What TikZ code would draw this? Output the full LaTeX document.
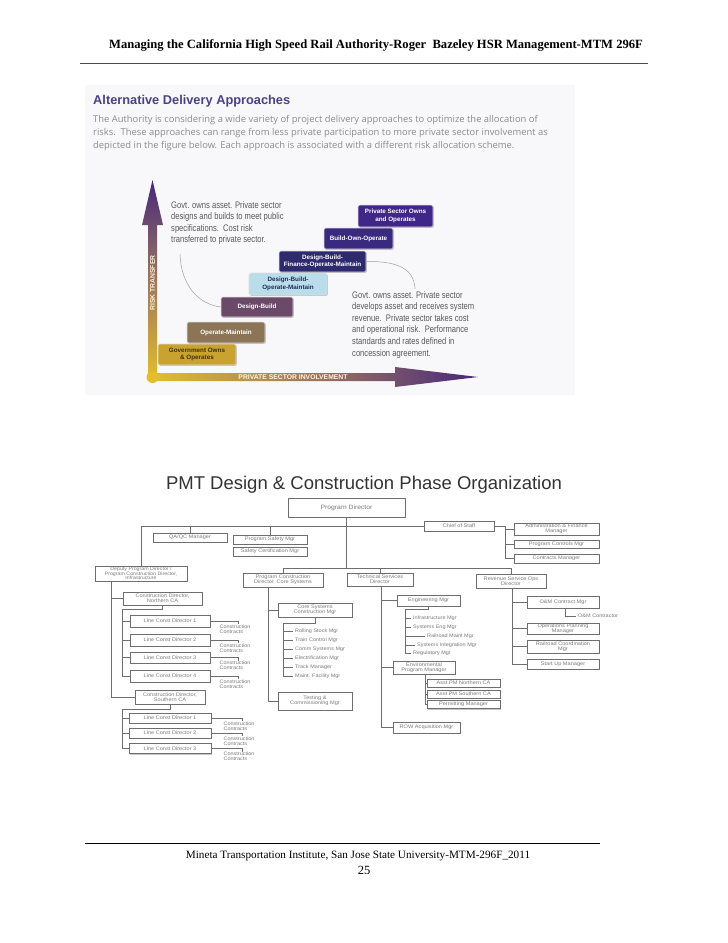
\documentclass[tikz,border=0pt]{standalone}
\usepackage{fontspec}
\setmainfont{Liberation Serif}
\newfontfamily\arialf{Liberation Sans}
\newfontfamily\orgf[FakeStretch=1.1]{Liberation Sans}
\newfontfamily\narrowf[FakeStretch=0.8]{Liberation Sans}
\newfontfamily\parf{Open Sans}
\usetikzlibrary{shadows}
\definecolor{bgtop}{HTML}{F8F8FA}
\definecolor{ttl}{HTML}{4B4188}
\definecolor{partx}{HTML}{8C8C8C}
\definecolor{ygold}{HTML}{E2BE2C}
\definecolor{amid}{HTML}{9C7660}
\definecolor{apur}{HTML}{47287A}
\definecolor{cgov}{HTML}{C9A230}
\definecolor{cgovt}{HTML}{3E3214}
\definecolor{com}{HTML}{8C7457}
\definecolor{cdb}{HTML}{6B4A69}
\definecolor{cdbom}{HTML}{B9DDEA}
\definecolor{cdbomt}{HTML}{232B5C}
\definecolor{cdbf}{HTML}{2E2A6E}
\definecolor{cboo}{HTML}{392A80}
\definecolor{cps}{HTML}{3F2688}
\definecolor{anntx}{HTML}{5A5A5A}
\definecolor{orgtx}{HTML}{7A7A7A}
\definecolor{orgln}{HTML}{6E6E6E}
\begin{document}
\begin{tikzpicture}[x=1pt,y=-1pt,
  wh/.style 2 args={minimum width=#1pt, minimum height=#2pt},
  ob/.style={draw=orgln, line width=0.8pt, fill=white, inner sep=0pt, align=center,
    font=\orgf\fontsize{5.1}{5.2}\selectfont, text=orgtx,
    drop shadow={shadow xshift=1.2pt, shadow yshift=-1.2pt, fill=gray!45, opacity=1}},
  ln/.style={draw=orgln, line width=0.6pt},
  itm/.style={anchor=west, inner sep=0pt, font=\orgf\fontsize{5}{6}\selectfont, text=orgtx},
  ctr/.style={anchor=north west, inner sep=0pt, align=left, font=\orgf\fontsize{5}{4.8}\selectfont, text=orgtx},
  tb/.style={rounded corners=1.5pt, inner sep=0pt, align=center, text=white,
    font=\arialf\bfseries\fontsize{6.3}{7.5}\selectfont, draw=white!75!gray, line width=0.6pt,
    drop shadow={shadow xshift=0.8pt, shadow yshift=-0.8pt, fill=gray!50, opacity=1}},
  ann/.style={anchor=north west, inner sep=0pt, align=left, text=anntx,
    font=\narrowf\fontsize{9.5}{11.6}\selectfont},
  cur/.style={draw=gray!75, line width=0.5pt}
]
\useasboundingbox (0,0) rectangle (728,943);
\fill[white] (0,0) rectangle (728,943);

% header
\node[font=\bfseries\fontsize{12.6}{14}\selectfont, inner sep=0pt] (hd) at (376,45)
  {Managing the California High Speed Rail Authority-Roger\ \ Bazeley HSR Management-MTM 296F};
\draw[gray!60!black, line width=0.8pt] (80,63) -- (648,63);

% ===== top figure =====
\fill[bgtop] (85,85) rectangle (575,395);
\node[anchor=west, inner sep=0pt, font=\arialf\bfseries\fontsize{12.8}{14}\selectfont, text=ttl] (t1) at (93,101)
  {Alternative Delivery Approaches};
\node[anchor=north west, align=left, inner sep=0pt, font=\parf\fontsize{9.4}{13}\selectfont, text=partx] (p1) at (93,115.5)
  {The Authority is considering a wide variety of project delivery approaches to optimize the allocation of\\
   risks.\ \ These approaches can range from less private participation to more private sector involvement as\\
   depicted in the figure below. Each approach is associated with a different risk allocation scheme.};

% arrows
\shade[top color=apur, bottom color=ygold, middle color=amid]
  (148,380) -- (148,225) -- (142,225) -- (152.5,180) -- (163,225) -- (157,225) -- (157,380) -- cycle;
\shade[left color=ygold, right color=apur, middle color=amid]
  (152,373) -- (395,373) -- (395,367) -- (478,377) -- (395,387) -- (395,381) -- (152,381) -- cycle;
\fill[ygold] (152.5,377) circle (6);
\node[rotate=90, inner sep=0pt, font=\arialf\bfseries\fontsize{6.8}{7}\selectfont, text=white!80!ygold] (rt) at (152.5,283) {RISK TRANSFER};
\node[inner sep=0pt, font=\arialf\bfseries\fontsize{6.8}{7}\selectfont, text=white!85!ygold] (psi) at (293,377.5) {PRIVATE SECTOR INVOLVEMENT};

% steps
\node[tb, fill=cgov, text=cgovt, wh={78}{21}] (b1) at (197,354.5) {Government Owns\\\& Operates};
\node[tb, fill=com, wh={78}{21}] (b2) at (226,332.5) {Operate-Maintain};
\node[tb, fill=cdb, wh={72}{20}] (b3) at (257,307) {Design-Build};
\node[tb, fill=cdbom, text=cdbomt, wh={78}{22}] (b4) at (288,284) {Design-Build-\\Operate-Maintain};
\node[tb, fill=cdbf, wh={87}{21}] (b5) at (322.5,261.5) {Design-Build-\\Finance-Operate-Maintain};
\node[tb, fill=cboo, wh={69}{21}] (b6) at (358.5,238.5) {Build-Own-Operate};
\node[tb, fill=cps, wh={75}{22}] (b7) at (395.5,216) {Private Sector Owns\\and Operates};

% annotations
\node[ann] (la) at (171,201) {Govt. owns asset. Private sector\\designs and builds to meet public\\specifications.\ \ Cost risk\\transferred to private sector.};
\node[ann] (ra) at (352,291) {Govt. owns asset. Private sector\\develops asset and receives system\\revenue.\ \ Private sector takes cost\\and operational risk.\ \ Performance\\standards and rates defined in\\concession agreement.};
\coordinate (lc) at (180,254);
\coordinate (rc) at (415,289);
\draw[cur] (lc) .. controls (181,285) and (198,304) .. (b3.west);
\draw[cur] (b5.east) .. controls (400,261) and (414,270) .. (rc);

% ===== org chart =====
\node[inner sep=0pt, font=\arialf\fontsize{18.5}{20}\selectfont, text=black!80] (ot) at (364,485)
  {PMT Design \& Construction Phase Organization};

\node[ob, wh={117}{19}, font=\orgf\fontsize{6.2}{7}\selectfont] (pd) at (346.5,507.5) {Program Director};
\node[ob, wh={70}{10}] (cos) at (459,526) {Chief of Staff};
\node[ob, wh={74}{9}] (qa) at (190,537.5) {QA/QC Manager};
\node[ob, wh={74}{9}] (psm) at (270,539.5) {Program Safety Mgr};
\node[ob, wh={74}{9}] (scm) at (270,551.5) {Safety Certification Mgr};
\node[ob, wh={85}{12}] (afm) at (556.5,529) {Administration \& Finance\\Manager};
\node[ob, wh={85}{8}] (pcm) at (556.5,544) {Program Controls Mgr};
\node[ob, wh={85}{9}] (cm) at (556.5,558.5) {Contracts Manager};

\node[ob, wh={92}{15}, font=\orgf\fontsize{4.8}{4.5}\selectfont] (dep) at (141,573.5)
  {Deputy Program Director /\\Program Construction Director,\\Infrastructure};
\node[ob, wh={79}{13}] (nca) at (162.5,598.5) {Construction Director,\\Northern CA};
\node[ob, wh={80}{12}] (n1) at (170,621) {Line Const Director 1};
\node[ob, wh={80}{12}] (n2) at (170,640) {Line Const Director 2};
\node[ob, wh={80}{11}] (n3) at (170,657.5) {Line Const Director 3};
\node[ob, wh={80}{12}] (n4) at (170,676) {Line Const Director 4};
\node[ob, wh={70}{14}] (sca) at (170,697) {Construction Director,\\Southern CA};
\node[ob, wh={82}{10}] (s1) at (170,718) {Line Const Director 1};
\node[ob, wh={82}{10}] (s2) at (170,733) {Line Const Director 2};
\node[ob, wh={82}{10}] (s3) at (170,748.5) {Line Const Director 3};

\node[ob, wh={80}{14}] (pcd) at (283,580) {Program Construction\\Director, Core Systems};
\node[ob, wh={74}{14}] (cscm) at (315,610) {Core Systems\\Construction Mgr};
\node[ob, wh={74}{18}] (tcm) at (315,701) {Testing \&\\Commissioning Mgr};
\node[itm] (c1) at (295,631) {Rolling Stock Mgr};
\node[itm] (c2) at (295,640) {Train Control Mgr};
\node[itm] (c3) at (295,649) {Comm Systems Mgr};
\node[itm] (c4) at (295,658) {Electrification Mgr};
\node[itm] (c5) at (295,667) {Track Manager};
\node[itm] (c6) at (295,676) {Maint. Facility Mgr};

\node[ob, wh={66}{13}] (tsd) at (380,579.5) {Technical Services\\Director};
\node[ob, wh={63}{11}] (em) at (428.5,600.5) {Engineering Mgr};
\node[itm] (e1) at (413,618) {Infrastructure Mgr};
\node[itm] (e2) at (413,627) {Systems Eng Mgr};
\node[itm] (e3) at (427,636) {Railroad Maint Mgr};
\node[itm] (e4) at (417,645) {Systems Integration Mgr};
\node[itm] (e5) at (413,653) {Regulatory Mgr};
\node[ob, wh={62}{13}] (epm) at (424,667.5) {Environmental\\Program Manager};
\node[ob, wh={73}{8}] (apn) at (463.5,683) {Asst PM Northern CA};
\node[ob, wh={73}{8}] (aps) at (463.5,694) {Asst PM Southern CA};
\node[ob, wh={73}{8}] (pm) at (463.5,704.5) {Permitting Manager};
\node[ob, wh={67}{11}] (row) at (426.5,727.5) {ROW Acquisition Mgr};

\node[ob, wh={70}{14}] (rsod) at (511,581) {Revenue Service Ops\\Director};
\node[ob, wh={72}{12}] (ocm) at (563,602) {O\&M Contract Mgr};
\node[itm] (omc) at (578,616) {O\&M Contractor};
\node[ob, wh={72}{11}] (opm) at (563,628.5) {Operations Planning\\Manager};
\node[ob, wh={72}{13}] (rcm) at (563,646.5) {Railroad Coordination\\Mgr};
\node[ob, wh={72}{10}] (sum) at (563,664) {Start Up Manager};

% contracts labels
\foreach \b in {n1,n2,n3,n4}{
  \draw[ln] (\b.east) -- ++(28,0) -- ++(0,3);
  \node[ctr] (ct\b) at ([xshift=9pt,yshift=-3.5pt]\b.east) {Construction\\Contracts};
}
\foreach \b in {s1,s2,s3}{
  \draw[ln] (\b.east) -- ++(31,0) -- ++(0,3);
  \node[ctr] (ct\b) at ([xshift=12pt,yshift=-3.5pt]\b.east) {Construction\\Contracts};
}

% connectors
\coordinate (bl) at (0,568);
\draw[ln] (dep.north) -- (dep.north |- cos.west) -- (cos.west);
\draw[ln] (qa.north) -- (qa.north |- cos.west);
\draw[ln] (psm.north) -- (psm.north |- cos.west);
\draw[ln] (pd.south) -- (pd.south |- bl);
\draw[ln] (pcd.north) -- (pcd.north |- bl) -- (rsod.north |- bl) -- (rsod.north);
\draw[ln] (tsd.north) -- (tsd.north |- bl);

\coordinate (cv0) at (505,0);
\draw[ln] (cos.east) -- (cos.east -| cv0) -- (cm.west -| cv0) -- (cm.west);
\draw[ln] (afm.west -| cv0) -- (afm.west);
\draw[ln] (pcm.west -| cv0) -- (pcm.west);

\coordinate (dv) at (111,0);
\draw[ln] (dep.south -| dv) -- (sca.west -| dv) -- (sca.west);
\draw[ln] (nca.west -| dv) -- (nca.west);

\coordinate (nv) at (122,609);
\draw[ln] (nca.south) |- (nv) -- (nv |- n4.west) -- (n4.west);
\foreach \b in {n1,n2,n3}{\draw[ln] (\b.west -| nv) -- (\b.west);}
\coordinate (sv) at (122,709);
\draw[ln] (sca.south) |- (sv) -- (sv |- s3.west) -- (s3.west);
\foreach \b in {s1,s2}{\draw[ln] (\b.west -| sv) -- (\b.west);}

\coordinate (pv) at (268,0);
\draw[ln] (pcd.south -| pv) -- (tcm.west -| pv) -- (tcm.west);
\draw[ln] (cscm.west -| pv) -- (cscm.west);
\coordinate (cv) at (283,623);
\draw[ln] (cscm.south) |- (cv) -- (cv |- c6.west);
\foreach \b in {c1,c2,c3,c4,c5,c6}{\draw[ln] (\b.west -| cv) -- ([xshift=-2pt]\b.west);}

\coordinate (tv) at (381,0);
\draw[ln] (tsd.south -| tv) -- (row.west -| tv) -- (row.west);
\draw[ln] (em.west -| tv) -- (em.west);
\draw[ln] (epm.west -| tv) -- (epm.west);
\coordinate (ev) at (405,609);
\draw[ln] (em.south) |- (ev) -- (ev |- e5.west);
\foreach \b in {e1,e2,e3,e4,e5}{\draw[ln] (\b.west -| ev) -- ([xshift=-2pt]\b.west);}
\coordinate (qv) at (425,0);
\draw[ln] (epm.south -| qv) -- (pm.west -| qv) -- (pm.west);
\draw[ln] (apn.west -| qv) -- (apn.west);
\draw[ln] (aps.west -| qv) -- (aps.west);

\coordinate (rv) at (512,0);
\draw[ln] (rsod.south -| rv) -- (sum.west -| rv) -- (sum.west);
\foreach \b in {ocm,opm,rcm}{\draw[ln] (\b.west -| rv) -- (\b.west);}
\draw[ln] ([xshift=2pt]ocm.south) |- ([xshift=-2pt]omc.west);

% footer
\draw[black, line width=0.6pt] (85,843) -- (600,843);
\node[inner sep=0pt, font=\fontsize{11.2}{13}\selectfont] (ft) at (358,856)
  {Mineta Transportation Institute, San Jose State University-MTM-296F\_2011};
\node[inner sep=0pt, font=\fontsize{12.5}{14}\selectfont] (pg) at (364,870) {25};
\end{tikzpicture}
\end{document}
